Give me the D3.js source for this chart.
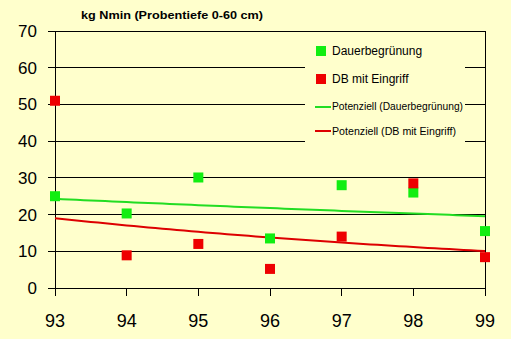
<!DOCTYPE html>
<html><head><meta charset="utf-8">
<script src="https://cdn.jsdelivr.net/npm/d3@7"></script>
<style>body{margin:0;background:#FFFFCC;}svg{display:block;}</style>
</head><body>
<script>
const years = [93, 94, 95, 96, 97, 98, 99];
const dauer = [25, 20.3, 30.1, 13.5, 28, 26, 15.5];
const eingriff = [51, 8.9, 12, 5.2, 14, 28.5, 8.4];
const yTicks = [0, 10, 20, 30, 40, 50, 60, 70];
const title = "kg Nmin (Probentiefe 0-60 cm)";
const seriesNames = ["Dauerbegrünung", "DB mit Eingriff", "Potenziell (Dauerbegrünung)", "Potenziell (DB mit Eingriff)"];

const W = 511, H = 339;
const svg = d3.select("body").append("svg").attr("width", W).attr("height", H);
svg.append("rect").attr("width", W).attr("height", H).attr("fill", "#FFFFCC");

const x = d3.scaleLinear().domain([93, 99]).range([55, 485]);
const y = d3.scaleLinear().domain([0, 70]).range([288, 31]);

// power trend fit y = a*x^b
function powerFit(xs, ys) {
  const lx = xs.map(Math.log), ly = ys.map(Math.log);
  const mx = d3.mean(lx), my = d3.mean(ly);
  const b = d3.sum(lx.map((v, i) => (v - mx) * (ly[i] - my))) / d3.sum(lx.map(v => (v - mx) ** 2));
  const a = Math.exp(my - b * mx);
  return v => a * Math.pow(v, b);
}

// gridlines
svg.append("g").selectAll("line").data(yTicks).join("line")
  .attr("x1", 48).attr("x2", 485)
  .attr("y1", d => y(d)).attr("y2", d => y(d))
  .attr("stroke", "#000").attr("stroke-width", 1).attr("shape-rendering", "crispEdges");
svg.append("line").attr("x1", 55).attr("x2", 55).attr("y1", y(70)).attr("y2", 296)
  .attr("stroke", "#000").attr("shape-rendering", "crispEdges");
svg.append("line").attr("x1", 485).attr("x2", 485).attr("y1", y(70)).attr("y2", 296)
  .attr("stroke", "#000").attr("shape-rendering", "crispEdges");
svg.append("g").selectAll("line").data(years).join("line")
  .attr("x1", d => x(d)).attr("x2", d => x(d)).attr("y1", 288).attr("y2", 296)
  .attr("stroke", "#000").attr("shape-rendering", "crispEdges");

// tick labels
svg.append("g").selectAll("text").data(yTicks).join("text")
  .attr("x", 37).attr("y", d => y(d) + 6).attr("text-anchor", "end")
  .attr("font-family", "Liberation Sans, Arial, sans-serif").attr("font-size", 17)
  .text(d => d);
svg.append("g").selectAll("text").data(years).join("text")
  .attr("x", d => x(d)).attr("y", 327).attr("text-anchor", "middle")
  .attr("font-family", "Liberation Sans, Arial, sans-serif").attr("font-size", 18)
  .text(d => d);

// title
svg.append("text").attr("x", 81).attr("y", 19)
  .attr("font-family", "Liberation Sans, Arial, sans-serif")
  .attr("font-weight", "bold").attr("font-size", 11.5)
  .attr("textLength", 182).attr("lengthAdjust", "spacingAndGlyphs").text(title);

// legend box
svg.append("rect").attr("x", 305).attr("y", 36).attr("width", 160).attr("height", 112).attr("fill", "#FFFFCC");

// trend lines
const pts = d3.range(93, 99.001, 0.1);
const line = d3.line().x(d => x(d[0])).y(d => y(d[1]));
const fG = powerFit(years, dauer), fR = powerFit(years, eingriff);
svg.append("path").attr("d", line(pts.map(v => [v, fG(v)]))).attr("fill", "none")
  .attr("stroke", "#22DD22").attr("stroke-width", 2);
svg.append("path").attr("d", line(pts.map(v => [v, fR(v)]))).attr("fill", "none")
  .attr("stroke", "#DD0000").attr("stroke-width", 2);

// markers
const s = 10;
svg.append("g").selectAll("rect").data(years).join("rect")
  .attr("x", d => x(d) - s / 2).attr("y", (d, i) => y(dauer[i]) - s / 2)
  .attr("width", s).attr("height", s).attr("fill", "#11EE11");
svg.append("g").selectAll("rect").data(years).join("rect")
  .attr("x", d => x(d) - s / 2).attr("y", (d, i) => y(eingriff[i]) - s / 2)
  .attr("width", s).attr("height", s).attr("fill", "#EE0000");

// legend
const lg = svg.append("g");
lg.append("rect").attr("x", 316).attr("y", 46).attr("width", 10).attr("height", 10).attr("fill", "#11EE11");
lg.append("rect").attr("x", 316).attr("y", 74).attr("width", 10).attr("height", 10).attr("fill", "#EE0000");
lg.append("text").attr("x", 332).attr("y", 55).attr("font-family", "Liberation Sans, Arial, sans-serif")
  .attr("font-size", 12).text(seriesNames[0]);
lg.append("text").attr("x", 332).attr("y", 83).attr("font-family", "Liberation Sans, Arial, sans-serif")
  .attr("font-size", 12).text(seriesNames[1]);
lg.append("line").attr("x1", 315).attr("x2", 331).attr("y1", 107).attr("y2", 107).attr("stroke", "#22DD22").attr("stroke-width", 2);
lg.append("line").attr("x1", 315).attr("x2", 331).attr("y1", 131).attr("y2", 131).attr("stroke", "#DD0000").attr("stroke-width", 2);
lg.append("text").attr("x", 332).attr("y", 110).attr("font-family", "Liberation Sans, Arial, sans-serif")
  .attr("font-size", 10.5).attr("textLength", 131).attr("lengthAdjust", "spacingAndGlyphs").text(seriesNames[2]);
lg.append("text").attr("x", 332).attr("y", 135).attr("font-family", "Liberation Sans, Arial, sans-serif")
  .attr("font-size", 10.5).attr("textLength", 124).attr("lengthAdjust", "spacingAndGlyphs").text(seriesNames[3]);
</script>
</body></html>
